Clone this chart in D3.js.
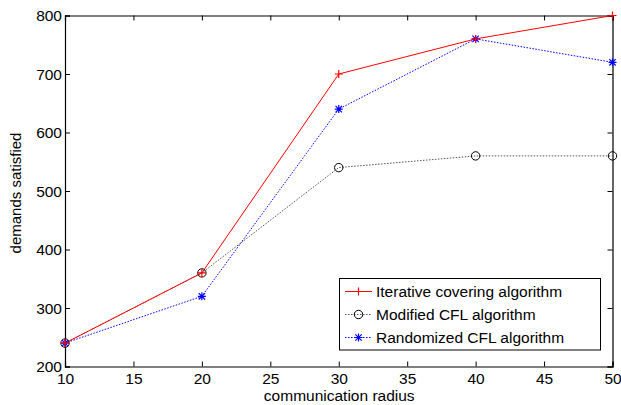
<!DOCTYPE html>
<html><head><meta charset="utf-8">
<script src="https://cdn.jsdelivr.net/npm/d3@7"></script>
<style>
body{margin:0;background:#fff;}
svg{display:block;font-family:"Liberation Sans",Arial,Helvetica,sans-serif;}
</style></head>
<body>
<svg id="c" width="621" height="405"></svg>
<script>
const radius = [10, 20, 30, 40, 50];
const iterative = [240, 360, 700, 760, 800];
const modifiedCFL = [240, 360, 540, 560, 560];
const randomizedCFL = [240, 320, 640, 760, 720];
const xTicks = [10, 15, 20, 25, 30, 35, 40, 45, 50];
const yTicks = [200, 300, 400, 500, 600, 700, 800];
const seriesNames = ["Iterative covering algorithm", "Modified CFL algorithm", "Randomized CFL algorithm"];

const svg = d3.select("#c");
const L = 65, R = 612.5, T = 15.5, B = 366.5;
const x = d3.scaleLinear().domain([10, 50]).range([L, R]);
const y = d3.scaleLinear().domain([200, 800]).range([B, T]);

// axes
const fs = 15.5;
const gx = svg.append("g").attr("transform", `translate(0,${B})`)
  .call(d3.axisBottom(x).tickValues(xTicks).tickSize(-5).tickPadding(6).tickFormat(d3.format("d")));
const gxt = svg.append("g").attr("transform", `translate(0,${T})`)
  .call(d3.axisTop(x).tickValues(xTicks).tickSize(-5).tickFormat(""));
const gy = svg.append("g").attr("transform", `translate(${L},0)`)
  .call(d3.axisLeft(y).tickValues(yTicks).tickSize(-5).tickPadding(3).tickFormat(d3.format("d")));
const gyr = svg.append("g").attr("transform", `translate(${R},0)`)
  .call(d3.axisRight(y).tickValues(yTicks).tickSize(-5).tickFormat(""));
[gx, gxt, gy, gyr].forEach(g => {
  g.select(".domain").attr("stroke", "#000").attr("stroke-width", 1.2);
  g.selectAll(".tick line").attr("stroke", "#000").attr("stroke-width", 1);
  g.selectAll(".tick text").attr("fill", "#000").style("font-size", fs + "px")
    .style("font-family", "'Liberation Sans',Arial,sans-serif");
});
gy.selectAll(".tick text").attr("dy", "0.35em");

// labels
svg.append("text").attr("x", (L + R) / 2 + 0.5).attr("y", 400.5).attr("text-anchor", "middle")
  .style("font-size", fs + "px").text("communication radius");
svg.append("text").attr("transform", `translate(21,${(T + B) / 2 + 2}) rotate(-90)`)
  .attr("text-anchor", "middle").style("font-size", "15px").text("demands satisfied");

const line = d3.line().x((d, i) => x(radius[i])).y(d => y(d));

// series
const series = [
  {name: seriesNames[0], data: iterative, color: "#ff0000", dash: null, marker: "plus", mcolor: "#ff0000"},
  {name: seriesNames[1], data: modifiedCFL, color: "#555555", dash: "1.5,1.5", marker: "circle", mcolor: "#000"},
  {name: seriesNames[2], data: randomizedCFL, color: "#0000ff", dash: "1.5,1.5", marker: "star", mcolor: "#0000ff"}
];

function drawMarker(g, type, cx, cy, col) {
  const s = 4;
  if (type === "plus") {
    g.append("path").attr("d", `M${cx - s},${cy}H${cx + s}M${cx},${cy - s}V${cy + s}`)
      .attr("stroke", col).attr("stroke-width", 1.2).attr("fill", "none");
  } else if (type === "circle") {
    g.append("circle").attr("cx", cx).attr("cy", cy).attr("r", 4.2)
      .attr("stroke", col).attr("stroke-width", 1).attr("fill", "none");
  } else {
    const d = s * 0.8;
    g.append("path").attr("d", `M${cx - s},${cy}H${cx + s}M${cx},${cy - s}V${cy + s}M${cx - d},${cy - d}L${cx + d},${cy + d}M${cx - d},${cy + d}L${cx + d},${cy - d}`)
      .attr("stroke", col).attr("stroke-width", 1.2).attr("fill", "none");
  }
}

const order = [1, 2, 0];
order.forEach(k => {
  const s = series[k];
  svg.append("path").datum(s.data).attr("d", line).attr("fill", "none")
    .attr("stroke", s.color).attr("stroke-width", 1).attr("stroke-dasharray", s.dash);
});
order.forEach(k => {
  const s = series[k];
  const g = svg.append("g");
  s.data.forEach((v, i) => drawMarker(g, s.marker, x(radius[i]), y(v), s.mcolor));
});

// legend
const lg = svg.append("g");
lg.append("rect").attr("x", 339.5).attr("y", 278.5).attr("width", 261).attr("height", 71.5)
  .attr("fill", "#fff").attr("stroke", "#000").attr("stroke-width", 1);
const rowY = [291.5, 314.5, 337.5];
series.forEach((s, i) => {
  lg.append("line").attr("x1", 345).attr("x2", 372).attr("y1", rowY[i]).attr("y2", rowY[i])
    .attr("stroke", s.color).attr("stroke-width", 1).attr("stroke-dasharray", s.dash);
  drawMarker(lg, s.marker, 358.5, rowY[i], s.mcolor);
  lg.append("text").attr("x", 376).attr("y", rowY[i]).attr("dy", "0.35em")
    .style("font-size", fs + "px").text(s.name);
});
</script>
</body></html>
